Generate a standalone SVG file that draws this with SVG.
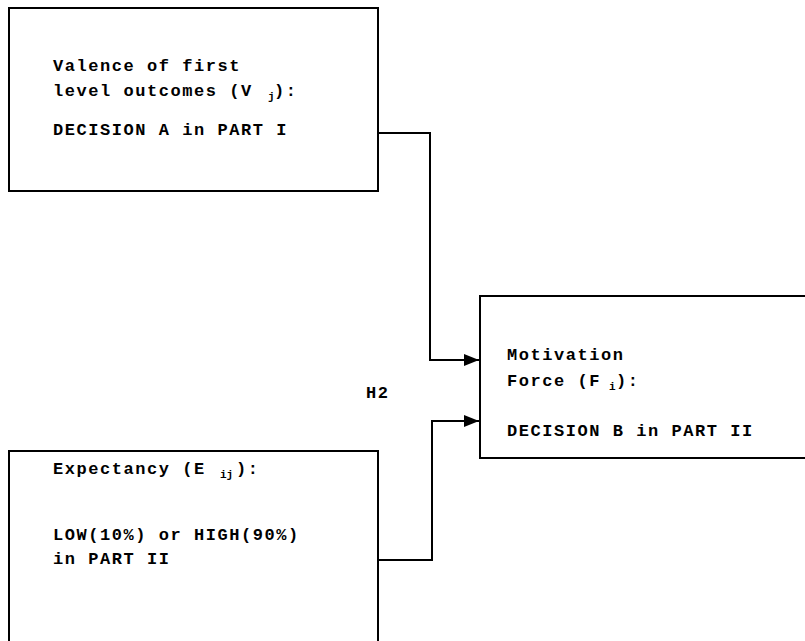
<svg xmlns="http://www.w3.org/2000/svg" width="805" height="641" viewBox="0 0 805 641">
<defs>
<style>
.box{fill:#fff;stroke:#000;stroke-width:2}
.t{font-family:"Liberation Mono","Courier New",monospace;font-weight:bold;font-size:17px;letter-spacing:1.55px;fill:#000}
.sub{font-size:11px;letter-spacing:0}
.conn{fill:none;stroke:#000;stroke-width:2}
</style>
<marker id="arr" markerWidth="15" markerHeight="14" refX="15" refY="7" orient="auto" markerUnits="userSpaceOnUse">
<path d="M0,1 L15,7 L0,13 Z" fill="#000"/>
</marker>
</defs>
<rect width="805" height="641" fill="#fff"/>
<g id="node-valence">
<rect class="box" x="9" y="8" width="369" height="183"/>
<text class="t" x="53" y="71">Valence of first</text>
<text class="t" x="53" y="96">level outcomes (V<tspan class="sub" x="268" dy="4">j</tspan><tspan x="274" dy="-4">):</tspan></text>
<text class="t" x="53" y="135">DECISION A in PART I</text>
</g>
<g id="node-expectancy">
<rect class="box" x="9" y="451" width="369" height="200"/>
<text class="t" x="53" y="474">Expectancy (E<tspan class="sub" x="220" dy="4">ij</tspan><tspan x="236" dy="-4">):</tspan></text>
<text class="t" x="53" y="540">LOW(10%) or HIGH(90%)</text>
<text class="t" x="53" y="564">in PART II</text>
</g>
<g id="node-motivation">
<rect class="box" x="480" y="296" width="340" height="162"/>
<text class="t" x="507" y="360">Motivation</text>
<text class="t" x="507" y="386">Force (F<tspan class="sub" x="609" dy="4">i</tspan><tspan x="616" dy="-4">):</tspan></text>
<text class="t" x="507" y="436">DECISION B in PART II</text>
</g>
<g id="label-h2">
<text class="t" x="366" y="398">H2</text>
</g>
<g id="connectors">
<path class="conn" d="M378,133 H430 V360 H479" marker-end="url(#arr)"/>
<path class="conn" d="M378,560 H432 V421 H479" marker-end="url(#arr)"/>
</g>
</svg>
